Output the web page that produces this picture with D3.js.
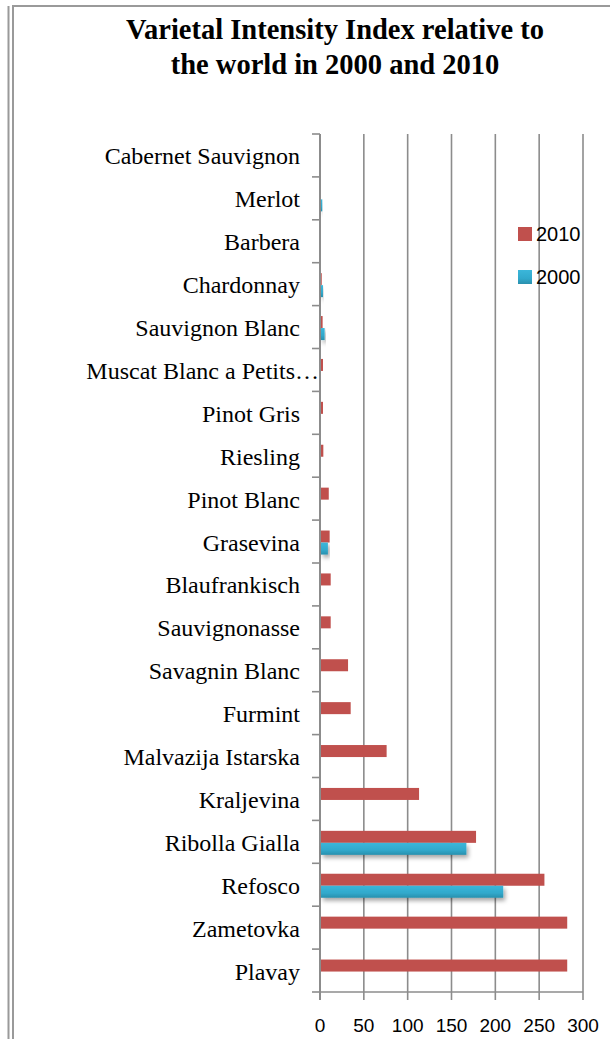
<!DOCTYPE html>
<html><head><meta charset="utf-8">
<script src="https://cdn.jsdelivr.net/npm/d3@7"></script>
<style>html,body{margin:0;padding:0;background:#fff;overflow:hidden}</style>
</head><body>
<svg id="chart" width="610" height="1039"></svg>
<script>
const categories = ["Cabernet Sauvignon","Merlot","Barbera","Chardonnay","Sauvignon Blanc","Muscat Blanc a Petits…","Pinot Gris","Riesling","Pinot Blanc","Grasevina","Blaufrankisch","Sauvignonasse","Savagnin Blanc","Furmint","Malvazija Istarska","Kraljevina","Ribolla Gialla","Refosco","Zametovka","Plavay"];
const values2010 = [0.3, 0.6, 0.8, 2, 3, 3.4, 3.4, 3.8, 10, 11, 12.2, 12.2, 32, 35, 76, 113, 178, 256, 282, 282];
const values2000 = [0, 2.6, 0, 3.4, 5.3, 0, 0, 0, 0, 9, 0, 0, 0, 0, 0, 0, 167, 209, 0, 0];
const seriesNames = ["2010", "2000"];
const xTicks = [0, 50, 100, 150, 200, 250, 300];
const titleLines = ["Varietal Intensity Index relative to", "the world in 2000 and 2010"];

const svg = d3.select("#chart");
const defs = svg.append("defs");
const grad = defs.append("linearGradient").attr("id","blueGrad").attr("x1",0).attr("y1",0).attr("x2",0).attr("y2",1);
grad.append("stop").attr("offset","0%").attr("stop-color","#3bb6da");
grad.append("stop").attr("offset","60%").attr("stop-color","#31a9cc");
grad.append("stop").attr("offset","100%").attr("stop-color","#2a90ad");
const sh = defs.append("filter").attr("id","shadow").attr("x","-10%").attr("y","-50%").attr("width","130%").attr("height","250%");
sh.append("feDropShadow").attr("dx",2).attr("dy",3).attr("stdDeviation",2).attr("flood-color","#000").attr("flood-opacity",0.35);

// page borders
const bc = "#9a9a9a";
svg.append("line").attr("x1",8.5).attr("x2",8.5).attr("y1",6).attr("y2",1039).attr("stroke",bc).attr("stroke-width",2);
svg.append("line").attr("x1",13).attr("x2",13).attr("y1",6).attr("y2",1039).attr("stroke",bc).attr("stroke-width",2);
svg.append("line").attr("x1",12).attr("x2",610).attr("y1",6).attr("y2",6).attr("stroke",bc).attr("stroke-width",2);

// title
svg.append("text").attr("x",335).attr("y",39).attr("text-anchor","middle")
  .attr("font-family","'Liberation Serif','Times New Roman',serif").attr("font-weight","bold").attr("font-size",28.5)
  .selectAll("tspan").data(titleLines).join("tspan")
  .attr("x",335).attr("dy",(d,i)=> i===0 ? 0 : 35).text(d=>d);

const x = d3.scaleLinear().domain([0,300]).range([320,583]);
const y = d3.scaleBand().domain(categories).range([134,992]).paddingInner(0.44).paddingOuter(0.22);
const ySub = d3.scaleBand().domain(seriesNames).range([0, y.bandwidth()]);
const step = y.step();
const top0 = 134, bottom0 = 992;

// gridlines
const g = svg.append("g");
g.selectAll("line.grid").data(xTicks).join("line")
  .attr("x1",d=>x(d)).attr("x2",d=>x(d)).attr("y1",top0).attr("y2",bottom0+8)
  .attr("stroke","#8c8c8c").attr("stroke-width",d=> d===0?2:1.6);
g.append("line").attr("x1",x(0)).attr("x2",x(300)).attr("y1",bottom0).attr("y2",bottom0).attr("stroke","#8c8c8c").attr("stroke-width",1.6);

// category ticks
const boundaries = d3.range(categories.length+1).map(i=> top0 + i*step);
g.selectAll("line.ctick").data(boundaries).join("line")
  .attr("x1",312).attr("x2",320).attr("y1",d=>d).attr("y2",d=>d)
  .attr("stroke","#8c8c8c").attr("stroke-width",1.6);

// bars
const rows = categories.map((c,i)=>({c, v2010: values2010[i], v2000: values2000[i]}));
const bars = svg.append("g");
bars.selectAll("rect.r").data(rows).join("rect")
  .attr("x",x(0)+1).attr("y",d=> y(d.c)+ySub("2010")+1)
  .attr("width",d=> Math.max(0, x(d.v2010)-x(0)-1)).attr("height",ySub.bandwidth())
  .attr("fill","#c0504d");
bars.selectAll("rect.b").data(rows.filter(d=>d.v2000>0)).join("rect")
  .attr("x",x(0)+1).attr("y",d=> y(d.c)+ySub("2000")+1)
  .attr("width",d=> Math.max(0, x(d.v2000)-x(0)-1)).attr("height",ySub.bandwidth())
  .attr("fill","url(#blueGrad)").attr("filter","url(#shadow)");

// category labels
svg.append("g").selectAll("text").data(categories).join("text")
  .attr("x",d=> d.endsWith("…") ? 319 : 300)
  .attr("y",d=> y(d) + y.bandwidth()/2 + 9)
  .attr("text-anchor","end")
  .attr("font-family","'Liberation Serif','Times New Roman',serif").attr("font-size",24)
  .attr("fill","#000").text(d=>d);

// x tick labels
svg.append("g").selectAll("text").data(xTicks).join("text")
  .attr("x",d=>x(d)).attr("y",1032).attr("text-anchor","middle")
  .attr("font-family","'Liberation Sans',Arial,sans-serif").attr("font-size",19)
  .attr("fill","#000").text(d=>d);

// legend
const legend = svg.append("g");
const legendItems = [{name:"2010", fill:"#c0504d", y:227}, {name:"2000", fill:"url(#blueGrad)", y:270}];
legend.selectAll("rect").data(legendItems).join("rect")
  .attr("x",518).attr("y",d=>d.y).attr("width",14).attr("height",14).attr("fill",d=>d.fill);
legend.selectAll("text").data(legendItems).join("text")
  .attr("x",536).attr("y",d=>d.y+14).attr("font-family","'Liberation Sans',Arial,sans-serif").attr("font-size",20)
  .attr("fill","#000").text(d=>d.name);
</script>
</body></html>
